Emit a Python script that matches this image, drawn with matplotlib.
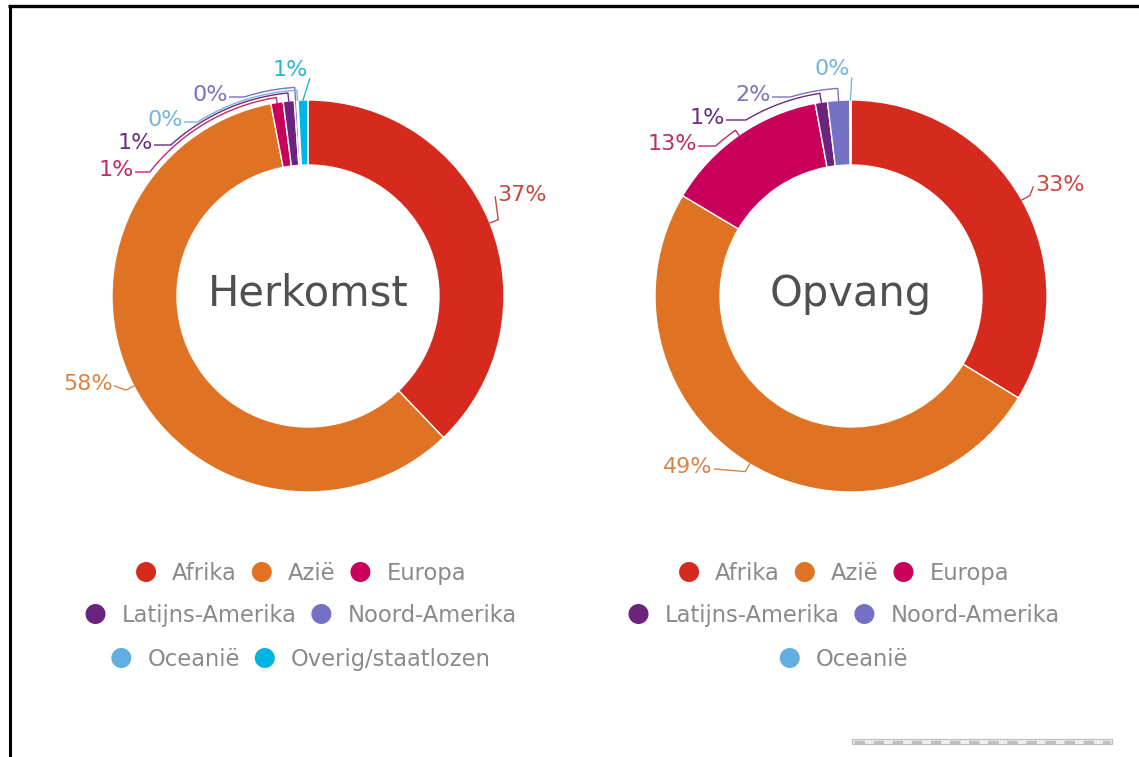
import matplotlib
matplotlib.use("Agg")
import matplotlib.pyplot as plt
import numpy as np
from matplotlib.patches import Rectangle

# ---------------- data (percentages as published) ----------------
titles = ["Herkomst", "Opvang"]
categories_herkomst = ["Afrika", "Azië", "Europa", "Latijns-Amerika",
                       "Noord-Amerika", "Oceanië", "Overig/staatlozen"]
values_herkomst = [37.4, 58.4, 1.0, 0.9, 0.2, 0.1, 0.8]
categories_opvang = ["Afrika", "Azië", "Europa", "Latijns-Amerika",
                     "Noord-Amerika", "Oceanië"]
values_opvang = [33.4, 49.4, 13.4, 1.0, 1.8, 0.1]

legend_rows_herkomst = [["Afrika", "Azië", "Europa"],
                        ["Latijns-Amerika", "Noord-Amerika"],
                        ["Oceanië", "Overig/staatlozen"]]
legend_rows_opvang = [["Afrika", "Azië", "Europa"],
                      ["Latijns-Amerika", "Noord-Amerika"],
                      ["Oceanië"]]

# ---------------- style ----------------
slice_colors = {
    "Afrika": "#d62a1e", "Azië": "#e07323", "Europa": "#c8005b",
    "Latijns-Amerika": "#6c237e", "Noord-Amerika": "#7471c5",
    "Oceanië": "#62aee3", "Overig/staatlozen": "#00b5e2",
}
label_colors = {
    "Afrika": "#c9463d", "Azië": "#d98447", "Europa": "#c02a68",
    "Latijns-Amerika": "#6b2b7e", "Noord-Amerika": "#7a73bf",
    "Oceanië": "#77b4df", "Overig/staatlozen": "#26b5d8",
}
W, H = 1139, 757
R_OUT, R_W = 196, 65
centers = [(308, 296), (851, 296)]
# label layout (pixel offsets from donut centre, y up) and connector styles
label_pos = [
    [(214, 101), (-220, -88), (-192, 126), (-173, 153), (-98, 201), (-143, 176), (-18, 226)],
    [(209, 111), (-163, -171), (-179, 152), (-144, 178), (-98, 201), (-19, 227)],
]
conn_style = [
    ["side", "side", "arc", "arc", "arc", "arc", "top"],
    ["side", "side", "arc", "arc", "arc", "top"],
]
arc_r = [
    [None, None, 201, 204, 209, 206, None],
    [None, None, 202, 205, 208, None],
]

fig = plt.figure(figsize=(W / 100, H / 100), dpi=100)
renderer = fig.canvas.get_renderer()

# overlay axes in image pixel coordinates
ov = fig.add_axes([0, 0, 1, 1])
ov.set_xlim(0, W)
ov.set_ylim(H, 0)
ov.axis("off")
ov.set_zorder(0)

# frame
ov.plot([8, W], [5.5, 5.5], color="black", lw=2.4, solid_capstyle="butt")
ov.plot([9.5, 9.5], [5, H], color="black", lw=2.2, solid_capstyle="butt")

# scrollbar-like grey strip bottom right
ov.add_patch(Rectangle((852, 739), 260, 5, facecolor="#eeeeee",
                       edgecolor="#bdbdbd", lw=0.8))
ov.plot([854, 1110], [741.5, 741.5], color="#bfbfbf", lw=2.5,
        dashes=(3, 2.5))


def pt(theta, r):
    t = np.radians(theta)
    return r * np.sin(t), r * np.cos(t)


datasets = [(categories_herkomst, values_herkomst),
            (categories_opvang, values_opvang)]
AX = 560
for k, ((cx, cy), (cats, vals)) in enumerate(zip(centers, datasets)):
    ax = fig.add_axes([(cx - AX / 2) / W, (H - cy - AX / 2) / H, AX / W, AX / H])
    ax.set_zorder(1)
    ax.patch.set_alpha(0)
    ax.pie(vals, colors=[slice_colors[c] for c in cats], startangle=90,
           counterclock=False, radius=R_OUT,
           wedgeprops=dict(width=R_W, edgecolor="white", linewidth=1.0))
    ax.set_xlim(-AX / 2, AX / 2)
    ax.set_ylim(-AX / 2, AX / 2)
    ax.set_aspect("equal", adjustable="box")
    ax.axis("off")
    ax.text(0, 2, titles[k], ha="center", va="center", fontsize=30,
            color="#505050", family="DejaVu Sans")

    total = float(sum(vals))
    cum = np.cumsum([0] + list(vals))
    for i, c in enumerate(cats):
        mid = (cum[i] + vals[i] / 2) / total * 360.0
        lab = f"{int(round(vals[i]))}%"
        tx, ty = label_pos[k][i]
        t = ax.text(tx, ty, lab, ha="center", va="center", fontsize=16,
                    color=label_colors[c], family="DejaVu Sans")
        w = t.get_window_extent(renderer=renderer).width
        ex, ey = pt(mid, R_OUT)
        st = conn_style[k][i]
        if st == "side":
            kx, ky = pt(mid, R_OUT + 9)
            ax_ = tx - w / 2 - 2 if tx > 0 else tx + w / 2 + 2
            xs, ys = [ex, kx, ax_], [ey, ky, ty - 2]
        elif st == "arc":
            rk = arc_r[k][i]
            axx, ayy = tx + w / 2 + 2, ty - 2
            xk = -np.sqrt(max(rk ** 2 - ayy ** 2, 0))
            thk = np.degrees(np.arctan2(xk, ayy)) % 360
            ths = np.linspace(thk, mid, 30)
            arc = [pt(th, rk) for th in ths]
            xs = [axx] + [a[0] for a in arc] + [ex]
            ys = [ayy] + [a[1] for a in arc] + [ey]
        else:  # top
            xs = [tx + w / 2 + 2, ex]
            ys = [ty - 9, ey]
        ax.plot(xs, ys, color=label_colors[c], lw=1.0, clip_on=False)

    # legend
    rows = legend_rows_herkomst if k == 0 else legend_rows_opvang
    row_y = [572, 614, 658]
    MD, GAP, SP = 20, 16, 15
    for ry, row in zip(row_y, rows):
        texts = []
        widths = []
        for name in row:
            t = ov.text(0, ry + 8, name, ha="left", va="baseline", fontsize=16.3,
                        color="#8a8a8a", family="DejaVu Sans")
            texts.append(t)
            widths.append(t.get_window_extent(renderer=renderer).width)
        tot = sum(MD + GAP + w for w in widths) + SP * (len(row) - 1)
        x = cx - 7 - tot / 2
        for name, t, w in zip(row, texts, widths):
            ov.scatter([x + MD / 2], [ry], s=(MD * 0.72) ** 2,
                       color=slice_colors[name], edgecolors="none", zorder=3)
            t.set_x(x + MD + GAP)
            x += MD + GAP + w + SP

fig.savefig("out.png", dpi=100)
